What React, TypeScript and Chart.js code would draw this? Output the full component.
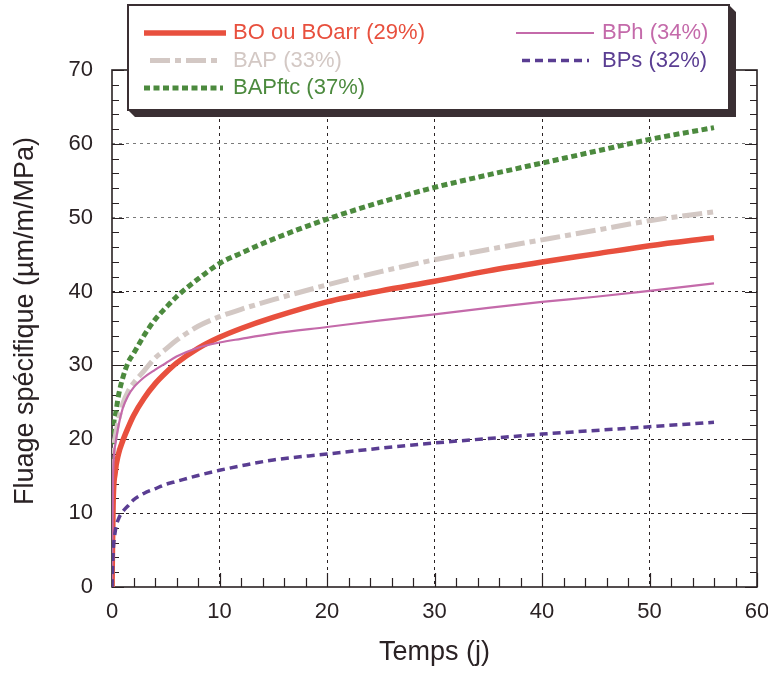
import React, { useEffect, useRef } from "react";
import { Chart, registerables } from "chart.js";

Chart.register(...registerables);

// ---- data ----
const days = [0, 0.1, 0.3, 0.6, 1, 1.5, 2, 3, 4, 5, 6, 8, 10, 12, 15, 20, 25, 30, 35, 40, 45, 50, 56];
const boValues = [0, 11, 15.5, 18, 19.8, 21.6, 23.2, 25.6, 27.5, 29.0, 30.3, 32.3, 33.8, 35.0, 36.5, 38.6, 40.1, 41.4, 42.8, 44.0, 45.1, 46.2, 47.3];
const bapValues = [0, 16, 20.3, 22.6, 24.8, 26.5, 27.6, 29.3, 31.0, 32.2, 33.4, 35.3, 36.6, 37.6, 38.9, 40.9, 42.7, 44.3, 45.7, 47.0, 48.3, 49.6, 50.8];
const bapftcValues = [0, 20, 23.2, 25.9, 28.3, 30.4, 31.6, 34.1, 36.2, 37.8, 39.3, 41.7, 43.8, 45.2, 47.1, 49.8, 52.1, 54.1, 55.8, 57.4, 59.0, 60.6, 62.2];
const bphValues = [0, 15, 19.2, 21.8, 24.2, 25.9, 27.0, 28.4, 29.4, 30.3, 31.2, 32.4, 33.1, 33.6, 34.3, 35.2, 36.1, 36.9, 37.8, 38.6, 39.3, 40.1, 41.1];
const bpsValues = [0, 4.5, 7.5, 9.2, 10.2, 11.0, 11.8, 12.7, 13.3, 13.9, 14.3, 15.1, 15.8, 16.4, 17.2, 18.0, 18.8, 19.5, 20.1, 20.7, 21.2, 21.7, 22.3];

const seriesLabels = ["BO ou BOarr (29%)", "BAP (33%)", "BAPftc (37%)", "BPh (34%)", "BPs (32%)"];
const xTicks = [0, 10, 20, 30, 40, 50, 60];
const yTicks = [0, 10, 20, 30, 40, 50, 60, 70];
const xTitle = "Temps (j)";
const yTitle = "Fluage spécifique (µm/m/MPa)";

const FONT = '"Liberation Sans", Arial, Helvetica, sans-serif';
const INK = "#2a2224";

const styles = [
  { color: "#e8503e", width: 5.5, dash: [] as number[], order: 3 },
  { color: "#d3c8c4", width: 5, dash: [20, 5, 6, 5], order: 4 },
  { color: "#4c8a3e", width: 5, dash: [6, 3.5], order: 5 },
  { color: "#c46aaa", width: 2.2, dash: [] as number[], order: 2 },
  { color: "#5a3d92", width: 3.5, dash: [8, 5], order: 1 },
];

const seriesValues = [boValues, bapValues, bapftcValues, bphValues, bpsValues];

// legend layout (positions only)
const legendPos = [
  { x1: 144, x2: 226, tx: 233, y: 33 },
  { x1: 150, x2: 222, tx: 233, y: 60.5 },
  { x1: 144, x2: 223, tx: 233, y: 88 },
  { x1: 516, x2: 594, tx: 602, y: 33 },
  { x1: 522, x2: 589, tx: 602, y: 60.5 },
];

const framePlugin = {
  id: "frameTicks",
  beforeDatasetsDraw(chart: any) {
    const { ctx, chartArea: a, scales } = chart;
    const xs = scales.x;
    const ys = scales.y;
    ctx.save();
    ctx.strokeStyle = INK;
    ctx.lineWidth = 1.2;
    ctx.beginPath();
    for (let v = 0; v <= 70; v += 2) {
      const p = Math.round(ys.getPixelForValue(v)) + 0.5;
      const len = v % 10 === 0 ? 12 : 7;
      ctx.moveTo(a.left, p);
      ctx.lineTo(a.left + len, p);
      ctx.moveTo(a.right, p);
      ctx.lineTo(a.right - len, p);
    }
    for (let v = 0; v <= 60; v += 2) {
      const p = Math.round(xs.getPixelForValue(v)) + 0.5;
      const len = v % 10 === 0 ? 14 : 9;
      ctx.moveTo(p, a.bottom);
      ctx.lineTo(p, a.bottom - len);
    }
    ctx.stroke();
    ctx.lineWidth = 1.6;
    ctx.strokeRect(a.left, a.top, a.right - a.left, a.bottom - a.top);

    // y axis title
    ctx.translate(26, 321);
    ctx.rotate(-Math.PI / 2);
    ctx.fillStyle = INK;
    ctx.font = `27px ${FONT}`;
    ctx.textAlign = "center";
    ctx.textBaseline = "middle";
    ctx.fillText(yTitle, 0, 0);
    ctx.restore();
  },
};

const legendPlugin = {
  id: "boxLegend",
  afterDraw(chart: any) {
    const { ctx } = chart;
    const L = 128, T = 5, R = 729, B = 110, S = 7;
    ctx.save();
    ctx.fillStyle = "#3a2f33";
    ctx.beginPath();
    ctx.moveTo(R, T);
    ctx.lineTo(R + S, T + S);
    ctx.lineTo(R + S, B + S);
    ctx.lineTo(L + S, B + S);
    ctx.lineTo(L, B);
    ctx.lineTo(R, B);
    ctx.closePath();
    ctx.fill();
    ctx.fillStyle = "#ffffff";
    ctx.fillRect(L, T, R - L, B - T);
    ctx.strokeStyle = "#3a2f33";
    ctx.lineWidth = 2;
    ctx.strokeRect(L, T, R - L, B - T);

    chart.data.datasets.forEach((ds: any, i: number) => {
      const p = legendPos[i];
      ctx.strokeStyle = ds.borderColor;
      ctx.lineWidth = ds.borderWidth;
      ctx.setLineDash(ds.borderDash || []);
      ctx.lineCap = "butt";
      ctx.beginPath();
      ctx.moveTo(p.x1, p.y);
      ctx.lineTo(p.x2, p.y);
      ctx.stroke();
      ctx.setLineDash([]);
      ctx.fillStyle = ds.borderColor;
      ctx.font = `22px ${FONT}`;
      ctx.textBaseline = "middle";
      ctx.textAlign = "left";
      ctx.fillText(ds.label, p.tx, p.y);
    });
    ctx.restore();
  },
};

export default function App() {
  const ref = useRef<HTMLCanvasElement | null>(null);

  useEffect(() => {
    if (!ref.current) return;
    const datasets = seriesValues.map((vals, i) => ({
      label: seriesLabels[i],
      data: days.map((d, k) => ({ x: d, y: vals[k] })),
      borderColor: styles[i].color,
      backgroundColor: styles[i].color,
      borderWidth: styles[i].width,
      borderDash: styles[i].dash,
      borderCapStyle: "butt",
      borderJoinStyle: "round",
      pointRadius: 0,
      cubicInterpolationMode: "monotone",
      fill: false,
      order: styles[i].order,
    }));

    const chart = new Chart(ref.current, {
      type: "line",
      data: { datasets } as any,
      options: {
        animation: false,
        responsive: false,
        devicePixelRatio: 1,
        layout: { padding: { left: 0, top: 70, right: 11, bottom: 0 } },
        plugins: { legend: { display: false }, tooltip: { enabled: false } },
        scales: {
          x: {
            type: "linear",
            min: 0,
            max: 60,
            afterBuildTicks: (s: any) => {
              s.ticks = xTicks.map((v) => ({ value: v }));
            },
            afterFit: (s: any) => {
              s.height = 86;
              s.paddingLeft = 0;
              s.paddingRight = 0;
            },
            ticks: {
              padding: 12,
              color: INK,
              font: { family: FONT, size: 22 },
              maxRotation: 0,
            },
            grid: {
              drawTicks: false,
              lineWidth: 1,
              color: (c: any) =>
                c.tick && (c.tick.value === 0 || c.tick.value === 60) ? "rgba(0,0,0,0)" : INK,
            },
            border: { display: false, dash: [3, 4] },
            title: {
              display: true,
              text: xTitle,
              color: INK,
              font: { family: FONT, size: 27 },
              padding: { top: 0, bottom: 4 },
            },
          },
          y: {
            type: "linear",
            min: 0,
            max: 70,
            afterBuildTicks: (s: any) => {
              s.ticks = yTicks.map((v) => ({ value: v }));
            },
            afterFit: (s: any) => {
              s.width = 112;
            },
            ticks: {
              padding: 19,
              color: INK,
              font: { family: FONT, size: 22 },
            },
            grid: {
              drawTicks: false,
              lineWidth: 1,
              color: (c: any) => {
                const v = c.tick ? c.tick.value : -1;
                if (v === 0 || v === 70) return "rgba(0,0,0,0)";
                return v >= 50 ? "#7a7a7a" : INK;
              },
            },
            border: { display: false, dash: [3, 4] },
            title: { display: false },
          },
        },
      },
      plugins: [framePlugin, legendPlugin],
    } as any);

    return () => chart.destroy();
  }, []);

  return (
    <div style={{ position: "absolute", left: 0, top: 0, width: 768, height: 673, background: "#fff" }}>
      <canvas ref={ref} width={768} height={673} style={{ display: "block", width: 768, height: 673 }} />
    </div>
  );
}
